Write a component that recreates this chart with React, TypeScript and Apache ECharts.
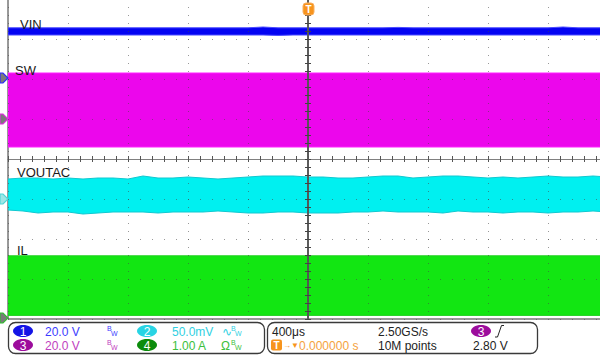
import React, { useEffect, useRef } from "react";
import * as echarts from "echarts";

// time axis (µs), 400 µs/div, trigger at 0
const TIME_US = [-2000, -1900, -1800, -1700, -1600, -1500, -1400, -1300, -1200, -1100, -1000, -900, -800, -700, -600, -500, -400, -300, -200, -100, 0, 100, 200, 300, 400, 500, 600, 700, 800, 900, 1000, 1100, 1200, 1300, 1400, 1500, 1600, 1700, 1800, 1900, 2000];

// envelopes in screen divisions (-4 .. 4)
const VIN_TOP = [3.28, 3.28, 3.28, 3.28, 3.28, 3.28, 3.28, 3.28, 3.28, 3.28, 3.28, 3.28, 3.28, 3.28, 3.28, 3.28, 3.28, 3.3, 3.28, 3.28, 3.28, 3.28, 3.28, 3.28, 3.28, 3.28, 3.29, 3.28, 3.28, 3.28, 3.28, 3.28, 3.28, 3.28, 3.28, 3.28, 3.28, 3.3, 3.28, 3.28, 3.28];
const VIN_BOT = [3.1, 3.1, 3.1, 3.1, 3.1, 3.1, 3.1, 3.1, 3.1, 3.1, 3.1, 3.1, 3.1, 3.1, 3.1, 3.1, 3.1, 3.1, 3.09, 3.1, 3.1, 3.1, 3.1, 3.1, 3.1, 3.1, 3.1, 3.1, 3.1, 3.1, 3.1, 3.1, 3.1, 3.1, 3.1, 3.1, 3.1, 3.1, 3.1, 3.1, 3.1];
const SW_TOP = [2.15, 2.15, 2.15, 2.15, 2.15, 2.15, 2.15, 2.15, 2.15, 2.15, 2.15, 2.15, 2.15, 2.15, 2.15, 2.15, 2.15, 2.15, 2.15, 2.15, 2.15, 2.15, 2.15, 2.15, 2.15, 2.15, 2.15, 2.15, 2.15, 2.15, 2.15, 2.15, 2.15, 2.15, 2.15, 2.15, 2.15, 2.15, 2.15, 2.15, 2.15];
const SW_BOT = [0.3, 0.3, 0.3, 0.3, 0.3, 0.3, 0.3, 0.3, 0.3, 0.3, 0.3, 0.3, 0.3, 0.3, 0.3, 0.3, 0.3, 0.3, 0.3, 0.3, 0.3, 0.3, 0.3, 0.3, 0.3, 0.3, 0.3, 0.3, 0.3, 0.3, 0.3, 0.3, 0.3, 0.3, 0.3, 0.3, 0.3, 0.3, 0.3, 0.3, 0.3];
const VOUT_TOP = [-0.5, -0.475, -0.475, -0.5, -0.475, -0.5, -0.475, -0.475, -0.5, -0.425, -0.475, -0.475, -0.45, -0.475, -0.5, -0.475, -0.45, -0.425, -0.425, -0.425, -0.45, -0.45, -0.475, -0.475, -0.45, -0.425, -0.425, -0.475, -0.45, -0.425, -0.425, -0.45, -0.475, -0.45, -0.475, -0.45, -0.425, -0.45, -0.45, -0.425, -0.45];
const VOUT_BOT = [-1.275, -1.3, -1.35, -1.325, -1.325, -1.375, -1.35, -1.325, -1.325, -1.325, -1.35, -1.325, -1.325, -1.325, -1.3, -1.325, -1.35, -1.35, -1.325, -1.325, -1.35, -1.35, -1.35, -1.325, -1.325, -1.3, -1.325, -1.325, -1.325, -1.35, -1.3, -1.325, -1.325, -1.35, -1.325, -1.325, -1.35, -1.325, -1.325, -1.3, -1.325];
const IL_TOP = [-2.42, -2.42, -2.42, -2.42, -2.42, -2.42, -2.42, -2.42, -2.42, -2.42, -2.42, -2.42, -2.42, -2.42, -2.42, -2.42, -2.42, -2.42, -2.42, -2.42, -2.42, -2.42, -2.42, -2.42, -2.42, -2.42, -2.42, -2.42, -2.42, -2.42, -2.42, -2.42, -2.42, -2.42, -2.42, -2.42, -2.42, -2.42, -2.42, -2.42, -2.42];
const IL_BOT = [-3.91, -3.91, -3.91, -3.91, -3.91, -3.91, -3.91, -3.91, -3.91, -3.91, -3.91, -3.91, -3.91, -3.91, -3.91, -3.91, -3.91, -3.91, -3.91, -3.91, -3.91, -3.91, -3.91, -3.91, -3.91, -3.91, -3.91, -3.91, -3.91, -3.91, -3.91, -3.91, -3.91, -3.91, -3.91, -3.91, -3.91, -3.91, -3.91, -3.91, -3.91];

const TRACE_LABELS = ["VIN", "SW", "VOUTAC", "IL"];

const FONT = "Liberation Sans, Arial, sans-serif";

function band(name: string, lo: number[], hi: number[], fill: string, edge: string) {
  return {
    name,
    type: "custom",
    silent: true,
    clip: true,
    z: 2,
    data: [[TIME_US[0], lo[0]]],
    renderItem: (_params: any, api: any) => {
      const top = TIME_US.map((t, i) => api.coord([t, hi[i]]));
      const bot = TIME_US.map((t, i) => api.coord([t, lo[i]])).reverse();
      return {
        type: "polygon",
        shape: { points: top.concat(bot) },
        style: { fill, stroke: edge, lineWidth: 1 },
      };
    },
  };
}

function txt(x: number, y: number, text: string, fill: string, size = 12, extra: any = {}) {
  return {
    type: "text",
    x,
    y,
    z: 20,
    style: { text, fill, font: `${size}px ${FONT}`, textVerticalAlign: "middle", ...extra },
  };
}

function badge(cx: number, cy: number, label: string, fill: string) {
  return [
    { type: "ellipse", z: 20, shape: { cx, cy, rx: 10, ry: 6 }, style: { fill } },
    txt(cx, cy + 0.5, label, "#ffffff", 12, { textAlign: "center" }),
  ];
}

function bw(x: number, y: number, color: string) {
  return [txt(x, y - 3, "B", color, 7), txt(x + 4, y + 2, "W", color, 7)];
}

function marker(y: number, fill: string, stroke: string) {
  return {
    type: "polygon",
    z: 20,
    shape: { points: [[0, y - 5], [3, y - 5], [8, y], [3, y + 5], [0, y + 5]] },
    style: { fill, stroke, lineWidth: 1.2 },
  };
}

export default function App() {
  const ref = useRef<HTMLDivElement>(null);
  useEffect(() => {
    document.body.style.margin = "0";
    const chart = echarts.init(ref.current!, null, { renderer: "svg" });
    const dotV = "rgba(70,70,70,0.55)";
    const axisBase = {
      type: "value",
      axisLabel: { show: false },
      z: 5,
    };
    const option: any = {
      animation: false,
      backgroundColor: "#ffffff",
      grid: {
        left: 8, top: -1, width: 600, height: 320,
        outerBoundsMode: "none", containLabel: false,
        show: true, borderColor: "#333", borderWidth: 1, backgroundColor: "transparent",
      },
      xAxis: [
        {
          ...axisBase,
          min: -2000,
          max: 2000,
          interval: 400,
          position: "bottom",
          axisLine: { show: true, onZero: true, lineStyle: { color: "#808080", width: 1.2 } },
          axisTick: { show: true, length: 3, lineStyle: { color: "#555" } },
          minorTick: { show: true, splitNumber: 5, length: 3, lineStyle: { color: "#555" } },
          splitLine: { show: true, lineStyle: { color: dotV, width: 1, type: [1, 7] } },
        },
        {
          ...axisBase,
          min: -2000,
          max: 2000,
          interval: 400,
          position: "top",
          axisLine: { show: true, onZero: true, lineStyle: { color: "#808080", width: 1.2 } },
          axisTick: { show: true, length: 3, lineStyle: { color: "#555" } },
          minorTick: { show: true, splitNumber: 5, length: 3, lineStyle: { color: "#555" } },
          splitLine: { show: false },
        },
      ],
      yAxis: [
        {
          ...axisBase,
          min: -4,
          max: 4,
          interval: 1,
          position: "left",
          axisLine: { show: true, onZero: true, lineStyle: { color: "#555", width: 1.6 } },
          axisTick: { show: true, length: 3, lineStyle: { color: "#444" } },
          minorTick: { show: true, splitNumber: 5, length: 3, lineStyle: { color: "#444" } },
          splitLine: { show: true, lineStyle: { color: dotV, width: 1, type: [1, 11] } },
        },
        {
          ...axisBase,
          min: -4,
          max: 4,
          interval: 1,
          position: "right",
          axisLine: { show: true, onZero: true, lineStyle: { color: "#555", width: 1.6 } },
          axisTick: { show: true, length: 3, lineStyle: { color: "#444" } },
          minorTick: { show: true, splitNumber: 5, length: 3, lineStyle: { color: "#444" } },
          splitLine: { show: false },
        },
      ],
      series: [
        band("VIN", VIN_BOT, VIN_TOP, "#0303f2", "#4a4aff"),
        band("SW", SW_BOT, SW_TOP, "#ec06ec", "#ff20ff"),
        band("VOUTAC", VOUT_BOT, VOUT_TOP, "#00f0f0", "#10c8d0"),
        band("IL", IL_BOT, IL_TOP, "#12e612", "#20d020"),
      ],
      graphic: [
        txt(20, 24, TRACE_LABELS[0], "#1a1a1a", 13),
        txt(15, 70, TRACE_LABELS[1], "#1a1a1a", 13),
        txt(17, 172, TRACE_LABELS[2], "#1a1a1a", 13),
        txt(17, 250, TRACE_LABELS[3], "#1a1a1a", 13),
        // trigger marker
        { type: "rect", z: 20, shape: { x: 303, y: 3, width: 11, height: 12, r: 3 }, style: { fill: "#f7941d", stroke: "#f9b060", lineWidth: 1 } },
        txt(308.5, 9.5, "T", "#ffffff", 10, { textAlign: "center", font: `bold 10px ${FONT}` }),
        // channel ground markers
        marker(78, "#7a7a7a", "#2a2aff"),
        marker(119, "#7a7a7a", "#e030e0"),
        marker(199, "#9ee6e6", "#50d8d8"),
        marker(318, "#7a7a7a", "#30c030"),
        // info boxes
        { type: "rect", z: 19, shape: { x: 8.5, y: 322.5, width: 256, height: 31, r: 7 }, style: { fill: "#ffffff", stroke: "#3a3a3a", lineWidth: 1.3 } },
        { type: "rect", z: 19, shape: { x: 267.5, y: 322.5, width: 270, height: 31, r: 7 }, style: { fill: "#ffffff", stroke: "#3a3a3a", lineWidth: 1.3 } },
        ...badge(23, 331, "1", "#1414e6"),
        txt(45, 331.5, "20.0 V", "#3c3cff"),
        ...bw(107, 331, "#3c3cff"),
        ...badge(23, 345, "3", "#9c0c9c"),
        txt(45, 345.5, "20.0 V", "#c040c0"),
        ...bw(107, 345, "#c040c0"),
        ...badge(147, 331, "2", "#28d4e4"),
        txt(172, 331.5, "50.0mV", "#30d0e2"),
        txt(222, 331.5, "∿", "#30d0e2", 12),
        ...bw(231, 331, "#30d0e2"),
        ...badge(147, 345, "4", "#0c8c0c"),
        txt(172, 345.5, "1.00 A", "#3cc03c"),
        txt(221, 345.5, "Ω", "#3cc03c", 12),
        ...bw(231, 345, "#3cc03c"),
        txt(272, 331.5, "400μs", "#222222"),
        txt(378, 331.5, "2.50GS/s", "#222222"),
        txt(378, 345.5, "10M points", "#222222"),
        ...badge(481, 331, "3", "#9c0c9c"),
        { type: "polyline", z: 20, shape: { points: [[495, 337], [497.5, 337], [501.5, 325.5], [504, 325.5]] }, style: { stroke: "#222", lineWidth: 1, fill: null } },
        txt(473, 345.5, "2.80 V", "#222222"),
        { type: "rect", z: 20, shape: { x: 271, y: 339.5, width: 11, height: 11, r: 2 }, style: { fill: "#f7941d" } },
        txt(276.5, 345.5, "T", "#ffffff", 10, { textAlign: "center", font: `bold 10px ${FONT}` }),
        txt(283, 345, "→▼", "#f7941d", 8),
        txt(299, 345.5, "0.000000 s", "#f5a23e"),
      ],
    };
    chart.setOption(option);
    return () => chart.dispose();
  }, []);
  return <div ref={ref} style={{ width: 600, height: 356 }} />;
}
